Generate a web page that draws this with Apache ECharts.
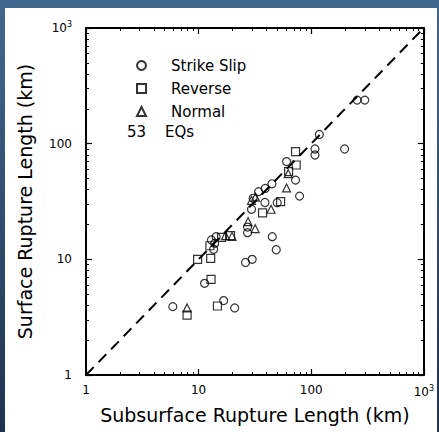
<!DOCTYPE html>
<html><head><meta charset="utf-8">
<script src="https://cdn.jsdelivr.net/npm/echarts@6/dist/echarts.min.js"></script>
<style>
html,body{margin:0;padding:0;width:439px;height:432px;overflow:hidden;background:linear-gradient(to bottom,#44678f,#1f3350);}
#main{position:absolute;left:5px;top:8px;width:432px;height:424px;background:#fff;}
</style></head><body><div id="main"></div>
<script>
// Strike slip events: [subsurface length km, surface length km]
const strikeSlip = [
  [5.9,3.9],[11.3,6.2],[16.7,4.4],[20.9,3.8],[13.6,12.2],[13.0,14.7],[14.3,15.7],[13.9,13.8],
  [26.1,9.4],[29.9,10.0],[27.2,17.0],[27.2,19.0],[29.5,27.1],[45.1,15.7],[48.9,12.1],
  [30.5,33.7],[34.1,38.5],[39.0,41.0],[44.8,45.0],[38.8,31.0],[49.9,30.9],[60.4,70],
  [72.6,48.4],[78.8,35.2],[108,89.9],[108,79.8],[118,120],[198,89.9],[256,238],[299,238]
];
const reverse = [
  [7.9,3.3],[9.8,10.0],[12.8,10.2],[12.9,6.7],[14.7,3.95],[12.6,13.1],[16.0,15.5],[19.2,16.0],
  [37.0,25.2],[53.5,31.5],[63,57.3],[73.6,65.4],[72.6,85.3]
];
const normal = [
  [7.9,3.8],[17.3,16.0],[19.8,15.8],[27.5,21.2],[31.8,18.4],[44,27.1],[60.4,41.4],
  [29.5,32.4],[32,34.5],[62.5,55]
];
const diagonal = [[1,1],[1000,1000]];
const axisRange = [1, 1000];
const tickLabels = {1:'1', 10:'10', 100:'100', 1000:'10{sup|3}'};
const seriesNames = ['Strike Slip','Reverse','Normal'];
const countLabel = ['53','EQs'];
const xTitle = 'Subsurface Rupture Length (km)';
const yTitle = 'Surface Rupture Length (km)';

const FONT = 'DejaVu Sans';
const chart = echarts.init(document.getElementById('main'), null, {renderer:'svg'});

function mkAxis(pos, isX, showLabel, name){
  const a = {
    type:'log', logBase:10, min:axisRange[0], max:axisRange[1], position:pos,
    axisLine:{show:true, onZero:false, lineStyle:{color:'#000', width:2}},
    axisTick:{show:true, inside:true, length:6, lineStyle:{color:'#000', width:1.2}},
    minorTick:{show:true, splitNumber:9, length:3, lineStyle:{color:'#000', width:1}},
    splitLine:{show:false}, minorSplitLine:{show:false},
    axisLabel:{show:showLabel, color:'#000', fontFamily:FONT, fontSize:12,
      margin: isX ? 9 : 14,
      formatter: v => tickLabels[Math.round(v)] !== undefined ? tickLabels[Math.round(v)] : '',
      rich:{sup:{fontSize:8, verticalAlign:'top', padding:[0,0,8,0], fontFamily:FONT, color:'#000'}}},
  };
  if (name){
    a.name = name; a.nameLocation = 'middle';
    a.nameGap = isX ? 30 : 52;
    a.nameTextStyle = {fontFamily:FONT, fontSize:19, color:'#000'};
  }
  return a;
}

const mark = {color:'rgba(0,0,0,0)', borderColor:'#000', borderWidth:1.2};
chart.setOption({
  animation:false,
  grid:{left:81, top:20, right:13, bottom:57, containLabel:false},
  xAxis:[mkAxis('bottom', true, true, xTitle), mkAxis('top', true, false)],
  yAxis:[mkAxis('left', false, true, yTitle), mkAxis('right', false, false)],
  legend:{
    orient:'vertical', left:126, top:45, itemWidth:9, itemHeight:9, itemGap:8,
    data:seriesNames,
    textStyle:{fontFamily:FONT, fontSize:15, color:'#000', padding:[0,0,0,20]}
  },
  graphic:[
    {type:'text', left:122, top:116, style:{text:countLabel[0], font:'15px "DejaVu Sans"', fill:'#000'}},
    {type:'text', left:160, top:116, style:{text:countLabel[1], font:'15px "DejaVu Sans"', fill:'#000'}}
  ],
  series:[
    {type:'line', data:diagonal, showSymbol:false, silent:true,
     lineStyle:{color:'#000', width:2, type:[11,7]}, z:1},
    {name:seriesNames[0], type:'scatter', symbol:'circle', symbolSize:8, data:strikeSlip, itemStyle:mark, z:3},
    {name:seriesNames[1], type:'scatter', symbol:'rect', symbolSize:8, data:reverse, itemStyle:mark, z:3},
    {name:seriesNames[2], type:'scatter', symbol:'triangle', symbolSize:8, data:normal, itemStyle:mark, z:3}
  ]
});
</script></body></html>
